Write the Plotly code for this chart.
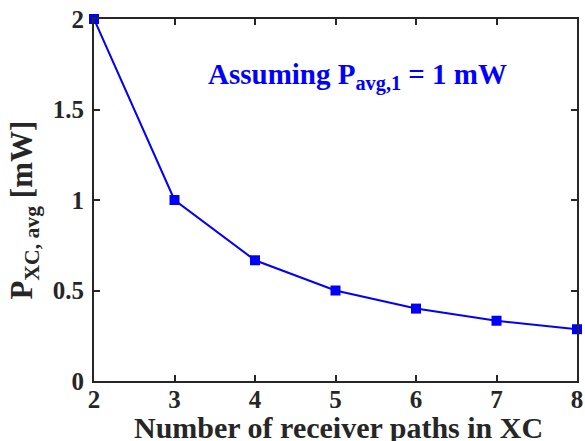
import plotly.graph_objects as go

paths = [2, 3, 4, 5, 6, 7, 8]
power_mw = [2.0, 1.0, 0.667, 0.5, 0.4, 0.333, 0.286]
x_ticks = [2, 3, 4, 5, 6, 7, 8]
y_ticks = [0, 0.5, 1, 1.5, 2]
y_tick_labels = ["0", "0.5", "1", "1.5", "2"]

FONT = "Liberation Serif"
AX = "#262626"

fig = go.Figure()
fig.add_trace(go.Scatter(
    x=paths, y=power_mw, mode="lines+markers",
    line=dict(color="#0000FF", width=2),
    marker=dict(symbol="square", size=10, color="#0000FF"),
    cliponaxis=False,
))

fig.add_annotation(
    x=0.545, y=0.84, xref="paper", yref="paper", yanchor="middle",
    text="Assuming P<sub>avg,1</sub> = 1 mW", showarrow=False,
    font=dict(family=FONT, size=29, color="#0000FF", weight="bold"),
)
# axis titles
fig.add_annotation(
    x=0.506, y=-0.128, xref="paper", yref="paper", yanchor="middle",
    text="Number of receiver paths in XC", showarrow=False,
    font=dict(family=FONT, size=30, color=AX, weight="bold"),
)
fig.add_annotation(
    x=-0.144, y=0.472, xref="paper", yref="paper", xanchor="center",
    yanchor="middle", textangle=-90,
    text="P<sub>XC, avg</sub> [mW]", showarrow=False,
    font=dict(family=FONT, size=31, color=AX, weight="bold"),
)

fig.update_layout(
    width=585, height=441,
    margin=dict(l=94, r=8, t=19, b=60),
    plot_bgcolor="white", paper_bgcolor="white",
    showlegend=False,
    font=dict(family=FONT, color=AX),
)
fig.update_xaxes(
    range=[2, 8], tickvals=x_ticks, ticks="inside", ticklen=6, tickwidth=2,
    tickcolor=AX, showline=True, linecolor=AX, linewidth=2, mirror="ticks",
    showgrid=False, zeroline=False, automargin=False, ticklabelstandoff=-5,
    ticklabeloverflow="allow",
    tickfont=dict(family=FONT, size=25, color=AX, weight="bold"),
)
fig.update_yaxes(
    range=[0, 2], tickvals=y_ticks, ticktext=y_tick_labels, ticks="inside",
    ticklen=6, tickwidth=2, tickcolor=AX, showline=True, linecolor=AX,
    linewidth=2, mirror="ticks", showgrid=False, zeroline=False, automargin=False,
    ticklabelstandoff=3, ticklabeloverflow="allow",
    tickfont=dict(family=FONT, size=25, color=AX, weight="bold"),
)

fig.write_html(
    "out.html",
    config={"displayModeBar": False},
    post_script="document.body.style.margin='0';document.body.style.overflow='hidden';",
)
